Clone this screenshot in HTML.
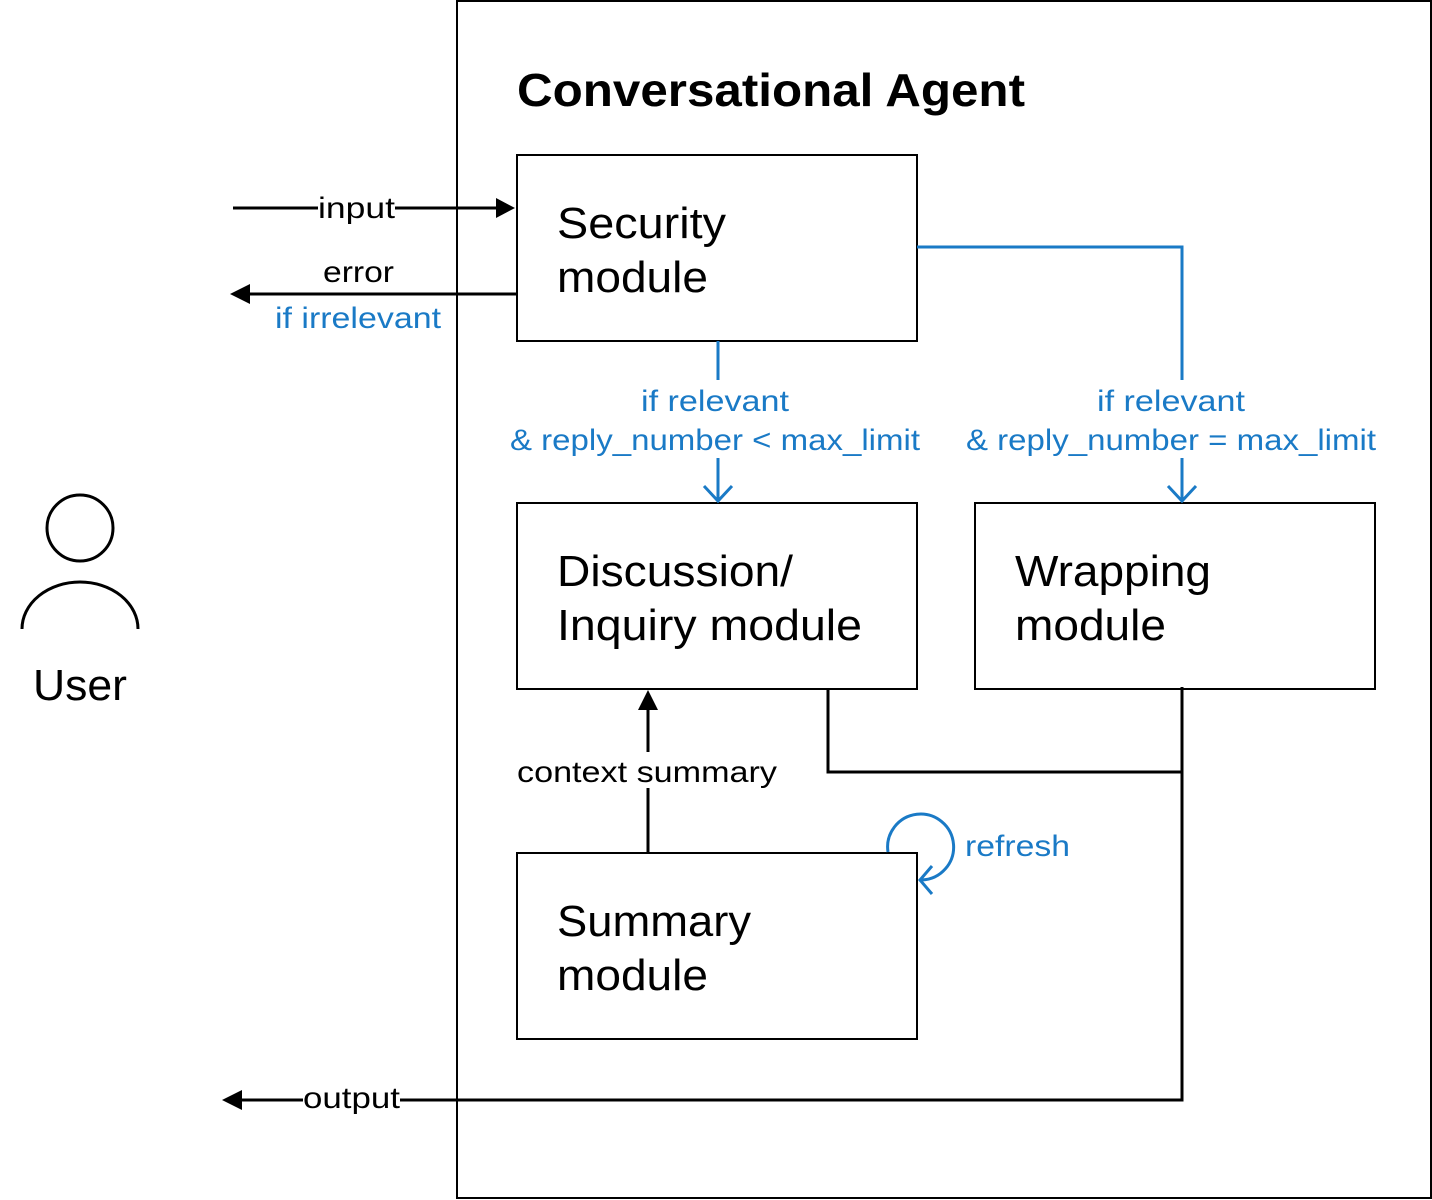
<!DOCTYPE html>
<html><head><meta charset="utf-8"><style>
html,body{margin:0;padding:0;background:#fff;}
svg{display:block;font-family:"Liberation Sans","DejaVu Sans",sans-serif;}
</style></head><body>
<svg width="1432" height="1200" viewBox="0 0 1432 1200" xmlns="http://www.w3.org/2000/svg">
<rect x="0" y="0" width="1432" height="1200" fill="#fff"/>
<rect x="457" y="1" width="974" height="1197" fill="none" stroke="#000" stroke-width="2"/>
<text x="517" y="106" font-size="46" font-weight="bold" textLength="508" lengthAdjust="spacingAndGlyphs">Conversational Agent</text>

<g fill="#fff" stroke="#000" stroke-width="2">
<rect x="517" y="155" width="400" height="186"/>
<rect x="517" y="503" width="400" height="186"/>
<rect x="975" y="503" width="400" height="186"/>
<rect x="517" y="853" width="400" height="186"/>
</g>
<g font-size="44" fill="#000" lengthAdjust="spacingAndGlyphs">
<text x="557" y="238" textLength="169" lengthAdjust="spacingAndGlyphs">Security</text><text x="557" y="292" textLength="151" lengthAdjust="spacingAndGlyphs">module</text>
<text x="557" y="586" textLength="236" lengthAdjust="spacingAndGlyphs">Discussion/</text><text x="557" y="640" textLength="305" lengthAdjust="spacingAndGlyphs">Inquiry module</text>
<text x="1015" y="586" textLength="196" lengthAdjust="spacingAndGlyphs">Wrapping</text><text x="1015" y="640" textLength="151" lengthAdjust="spacingAndGlyphs">module</text>
<text x="557" y="936" textLength="194" lengthAdjust="spacingAndGlyphs">Summary</text><text x="557" y="990" textLength="151" lengthAdjust="spacingAndGlyphs">module</text>
</g>

<line x1="233" y1="208" x2="500" y2="208" stroke="#000" stroke-width="3"/>
<polygon points="515,208 496,198 496,218" fill="#000"/>
<rect x="318" y="192" width="77" height="30" fill="#fff"/>
<text x="318" y="218" font-size="30" textLength="77" lengthAdjust="spacingAndGlyphs">input</text>

<line x1="517" y1="294" x2="246" y2="294" stroke="#000" stroke-width="3"/>
<polygon points="230,294 250,284 250,304" fill="#000"/>
<text x="323" y="282" font-size="30" textLength="71" lengthAdjust="spacingAndGlyphs">error</text>
<text x="275" y="328" font-size="30" fill="#1a7ac6" textLength="166" lengthAdjust="spacingAndGlyphs">if irrelevant</text>

<g stroke="#1a7ac6" stroke-width="3" fill="none">
<line x1="718" y1="341" x2="718" y2="380"/>
<line x1="718" y1="458" x2="718" y2="500"/>
<polyline points="704,486 718,501 732,486"/>
<polyline points="917,247 1182,247 1182,380"/>
<line x1="1182" y1="458" x2="1182" y2="500"/>
<polyline points="1168,486 1182,501 1196,486"/>
<path d="M888,852 A33,33 0 1 1 922,880"/>
<polyline points="932,866 920,880 932,894"/>
</g>
<g font-size="30" fill="#1a7ac6">
<text x="641" y="411" textLength="148" lengthAdjust="spacingAndGlyphs">if relevant</text>
<text x="510" y="450" textLength="410" lengthAdjust="spacingAndGlyphs">&amp; reply_number &lt; max_limit</text>
<text x="1097" y="411" textLength="148" lengthAdjust="spacingAndGlyphs">if relevant</text>
<text x="966" y="450" textLength="410" lengthAdjust="spacingAndGlyphs">&amp; reply_number = max_limit</text>
</g>
<text x="965" y="856" font-size="30" fill="#1a7ac6" textLength="105" lengthAdjust="spacingAndGlyphs">refresh</text>

<g stroke="#000" stroke-width="3" fill="none">
<polyline points="828,689 828,772 1182,772"/>
<polyline points="1182,687 1182,1100 240,1100"/>
<line x1="648" y1="853" x2="648" y2="705"/>
</g>
<polygon points="222,1100 242,1090 242,1110" fill="#000"/>
<polygon points="648,690 638,710 658,710" fill="#000"/>
<rect x="303" y="1084" width="97" height="30" fill="#fff"/>
<text x="303" y="1108" font-size="30" textLength="97" lengthAdjust="spacingAndGlyphs">output</text>
<rect x="514" y="752" width="266" height="36" fill="#fff"/>
<text x="517" y="782" font-size="30" textLength="260" lengthAdjust="spacingAndGlyphs">context summary</text>

<circle cx="80" cy="528" r="33" fill="none" stroke="#000" stroke-width="3"/>
<path d="M22,629 A58,47 0 0 1 138,629" fill="none" stroke="#000" stroke-width="3"/>
<text x="33" y="700" font-size="44" textLength="94" lengthAdjust="spacingAndGlyphs">User</text>
</svg>
</body></html>
